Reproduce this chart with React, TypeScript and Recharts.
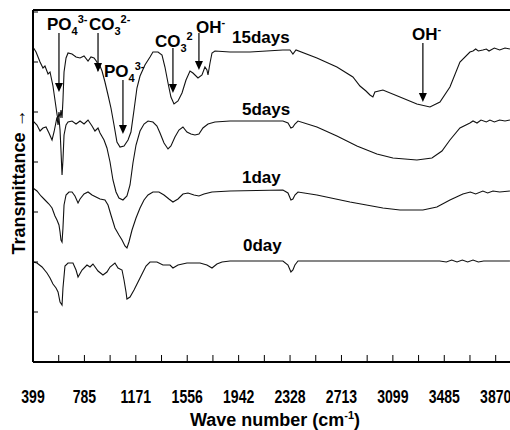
import { LineChart, Line, XAxis, YAxis, ReferenceLine, ReferenceDot } from 'recharts';

const FONT = '"Liberation Sans", Arial, sans-serif';

// x axis: tick marks every 192.83 cm-1, a label on every second one
const xTicks = Array.from({ length: 19 }, (_, k) => 399.2 + k * 192.83);
const xTickLabels = ['399', '785', '1171', '1556', '1942', '2328', '2713', '3099', '3485', '3870'];
const yTicks = [0, 50, 100, 150, 200, 250, 300, 350];

// spectra: [wave number, transmittance (offset, arb. units)]
const day15: [number, number][] = [
  [399, 315], [422, 310], [452, 300], [474, 294], [489, 296], [512, 288], [527, 290], [549, 276],
  [564, 262], [579, 248], [587, 242], [594, 250], [602, 244], [609, 252], [617, 244], [624, 262],
  [632, 290], [647, 304], [662, 309], [692, 308], [722, 305], [752, 304], [782, 306], [812, 301],
  [834, 305], [857, 304], [879, 300], [887, 292], [902, 296], [917, 291], [939, 280], [962, 267],
  [984, 254], [1007, 237], [1029, 220], [1052, 215], [1082, 216], [1112, 222], [1134, 230],
  [1157, 252], [1179, 274], [1202, 286], [1239, 297], [1277, 305], [1299, 310], [1337, 310],
  [1367, 307], [1389, 295], [1412, 279], [1434, 265], [1457, 258], [1487, 261], [1517, 269],
  [1547, 282], [1577, 291], [1599, 289], [1637, 284], [1667, 287], [1689, 295], [1704, 292],
  [1712, 287], [1727, 299], [1742, 309], [1764, 311], [1877, 310], [2027, 310], [2274, 312],
  [2327, 312], [2349, 308], [2372, 312], [2529, 304], [2679, 295], [2799, 285], [2852, 276],
  [2897, 271], [2927, 267], [2949, 265], [2964, 270], [3024, 272], [3152, 265], [3279, 258],
  [3377, 255], [3452, 260], [3527, 275], [3602, 300], [3677, 310], [3700, 311], [3720, 313],
  [3740, 311], [3774, 312], [3800, 313], [3820, 311], [3860, 314], [3900, 312], [3940, 314],
  [3977, 313],
];

const day5: [number, number][] = [
  [399, 241], [429, 237], [452, 231], [474, 234], [497, 235], [519, 229], [542, 222], [557, 230],
  [572, 240], [579, 245], [587, 237], [594, 244], [602, 232], [609, 212], [617, 187], [624, 202],
  [632, 227], [647, 237], [662, 240], [692, 241], [722, 238], [752, 241], [782, 238], [812, 242],
  [842, 236], [864, 231], [887, 234], [902, 229], [932, 222], [954, 214], [977, 200], [999, 182],
  [1022, 170], [1044, 164], [1074, 162], [1104, 166], [1127, 177], [1149, 199], [1172, 217],
  [1202, 231], [1232, 238], [1262, 241], [1299, 240], [1329, 236], [1352, 229], [1382, 219],
  [1412, 213], [1434, 216], [1464, 225], [1494, 232], [1524, 235], [1554, 230], [1584, 228],
  [1614, 227], [1644, 228], [1674, 234], [1712, 238], [1764, 240], [1877, 241], [2274, 241],
  [2312, 239], [2334, 234], [2349, 235], [2364, 238], [2387, 241], [2529, 235], [2679, 226],
  [2829, 216], [2979, 208], [3099, 204], [3279, 202], [3392, 204], [3467, 211], [3527, 222],
  [3602, 234], [3677, 239], [3700, 241], [3730, 239], [3760, 242], [3800, 240], [3827, 242],
  [3860, 240], [3900, 242], [3940, 241], [3977, 242],
];

const day1: [number, number][] = [
  [399, 174], [429, 171], [459, 166], [489, 162], [519, 158], [542, 154], [564, 146], [579, 142],
  [594, 137], [602, 130], [609, 122], [617, 120], [624, 134], [632, 157], [647, 167], [669, 170],
  [692, 170], [714, 166], [737, 159], [752, 163], [782, 168], [812, 170], [842, 167], [872, 165],
  [902, 163], [939, 162], [962, 157], [984, 147], [1014, 134], [1044, 127], [1067, 122],
  [1089, 116], [1104, 114], [1119, 120], [1142, 132], [1172, 144], [1202, 154], [1232, 162],
  [1262, 167], [1299, 170], [1344, 170], [1382, 167], [1419, 163], [1449, 160], [1487, 163],
  [1524, 168], [1562, 169], [1607, 167], [1644, 166], [1682, 168], [1742, 170], [1877, 171],
  [2274, 172], [2312, 169], [2334, 162], [2349, 163], [2364, 167], [2387, 170], [2529, 167],
  [2777, 160], [3024, 154], [3152, 152], [3324, 152], [3429, 155], [3527, 162], [3624, 168],
  [3680, 170], [3720, 168], [3774, 171], [3810, 169], [3850, 171], [3900, 170], [3977, 171],
];

const day0: [number, number][] = [
  [399, 100], [429, 99], [467, 95], [504, 89], [527, 84], [549, 78], [572, 74], [587, 70],
  [602, 60], [617, 57], [624, 74], [639, 96], [662, 99], [699, 99], [722, 92], [737, 85],
  [767, 92], [804, 97], [827, 95], [849, 98], [887, 91], [924, 87], [954, 90], [977, 95],
  [1014, 99], [1037, 94], [1067, 92], [1082, 82], [1097, 70], [1104, 63], [1127, 65], [1157, 72],
  [1187, 80], [1217, 88], [1247, 96], [1277, 100], [1329, 100], [1374, 97], [1427, 97],
  [1449, 94], [1487, 97], [1554, 99], [1652, 99], [1704, 97], [1742, 94], [1779, 98],
  [1817, 100], [1877, 101], [2274, 101], [2312, 97], [2334, 90], [2349, 92], [2364, 97],
  [2387, 101], [3450, 101], [3500, 100], [3540, 102], [3580, 100], [3620, 102], [3660, 100],
  [3700, 102], [3740, 100], [3780, 101], [3977, 101],
];

const seriesNames = ['15days', '5days', '1day', '0day'];
const seriesData = [day15, day5, day1, day0];
const nameWn = [1892, 1967, 1967, 1974];
const nameT = [319, 247, 179, 111];

// band assignments: arrows (shaft top, tip) and their labels
const arrowWn = [594, 887, 1074, 1449, 1644, 3324];
const arrowTop = [329, 329, 282, 314, 329, 319];
const arrowTip = [270, 290, 228, 269, 292, 260];

const bandText = ['PO', 'CO', 'PO', 'CO', 'OH', 'OH'];
const bandSub = ['4', '3', '4', '3', '', ''];
const bandSup = ['3-', '2-', '3-', '2', '-', '-'];
const bandWn = [504, 819, 932, 1314, 1622, 3242];
const bandT = [332, 332, 285, 315, 329, 322];

function XTick(props: any) {
  const { x, y, index } = props;
  const label = index % 2 === 0 ? xTickLabels[index / 2] : null;
  return (
    <g>
      <line x1={x} x2={x} y1={y} y2={y - 7} stroke="#000" strokeWidth={1} />
      {label && (
        <text
          transform={`translate(${x},${y + 41}) scale(0.74,1)`}
          textAnchor="middle"
          fontFamily={FONT}
          fontWeight="bold"
          fontSize={19}
          fill="#000"
        >
          {label}
        </text>
      )}
    </g>
  );
}

function YTick(props: any) {
  const { x, y } = props;
  return <line x1={x} x2={x + 5} y1={y} y2={y} stroke="#000" strokeWidth={1} />;
}

const arrowHead = (p: any) => (
  <path d={`M${p.cx - 4},${p.cy - 9}L${p.cx + 4},${p.cy - 9}L${p.cx},${p.cy}Z`} fill="#000" />
);

const bandLabel = (i: number) => (p: any) => (
  <text x={p.cx} y={p.cy} fontFamily={FONT} fontWeight="bold" fontSize={17} fill="#000">
    {bandText[i]}
    {bandSub[i] && (
      <tspan dy={5} fontSize={11}>
        {bandSub[i]}
      </tspan>
    )}
    <tspan dy={bandSub[i] ? -12 : -7} fontSize={11}>
      {bandSup[i]}
    </tspan>
  </text>
);

const nameLabel = (i: number) => (p: any) => (
  <text x={p.cx} y={p.cy} fontFamily={FONT} fontWeight="bold" fontSize={17} fill="#000">
    {seriesNames[i]}
  </text>
);

export default function App() {
  return (
    <div style={{ position: 'absolute', left: 0, top: 0, width: 510, height: 430, overflow: 'hidden', background: '#fff' }}>
      <LineChart width={530} height={430} margin={{ top: 10, right: 17, bottom: 8, left: 3 }}>
        <XAxis
          type="number"
          dataKey="wn"
          domain={[399.2, 4000]}
          ticks={xTicks}
          interval={0}
          tickSize={0}
          tickMargin={0}
          tickLine={false}
          tick={<XTick />}
          height={60}
          axisLine={{ stroke: '#000', strokeWidth: 2 }}
          allowDataOverflow
          label={{
            content: () => (
              <text x={275} y={426} textAnchor="middle" fontFamily={FONT} fontWeight="bold" fontSize={18} fill="#000">
                Wave number (cm
                <tspan dy={-7} fontSize={11}>
                  -1
                </tspan>
                <tspan dy={7}>)</tspan>
              </text>
            ),
          }}
        />
        <YAxis
          type="number"
          domain={[0, 352]}
          ticks={yTicks}
          interval={0}
          tickSize={0}
          tickMargin={0}
          tickLine={false}
          tick={<YTick />}
          width={30}
          axisLine={{ stroke: '#000', strokeWidth: 2 }}
          allowDataOverflow
          label={{
            content: () => (
              <text
                transform="translate(19,182) rotate(-90)"
                textAnchor="middle"
                dominantBaseline="central"
                fontFamily={FONT}
                fontWeight="bold"
                fontSize={18}
                fill="#000"
              >
                Transmittance →
              </text>
            ),
          }}
        />
        <ReferenceLine y={352} stroke="#000" strokeWidth={2} />
        <ReferenceLine x={4000} stroke="#000" strokeWidth={2} />
        {seriesData.map((s, i) => (
          <Line
            key={seriesNames[i]}
            data={s.map(([wn, t]) => ({ wn, t }))}
            dataKey="t"
            type="linear"
            stroke="#111"
            strokeWidth={1.1}
            dot={false}
            isAnimationActive={false}
          />
        ))}
        {arrowWn.map((wn, i) => (
          <ReferenceLine
            key={'a' + i}
            segment={[
              { x: wn, y: arrowTop[i] },
              { x: wn, y: arrowTip[i] + 6 },
            ]}
            stroke="#000"
            strokeWidth={1.2}
          />
        ))}
        {arrowWn.map((wn, i) => (
          <ReferenceDot key={'h' + i} x={wn} y={arrowTip[i]} shape={arrowHead} />
        ))}
        {bandWn.map((wn, i) => (
          <ReferenceDot key={'b' + i} x={wn} y={bandT[i]} shape={bandLabel(i)} />
        ))}
        {nameWn.map((wn, i) => (
          <ReferenceDot key={'n' + i} x={wn} y={nameT[i]} shape={nameLabel(i)} />
        ))}
      </LineChart>
    </div>
  );
}
